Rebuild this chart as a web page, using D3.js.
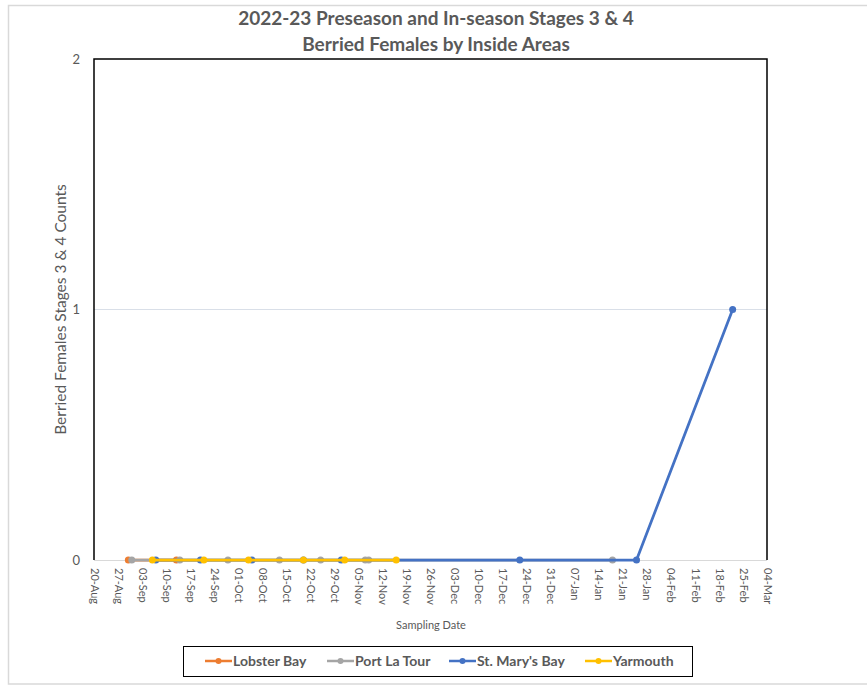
<!DOCTYPE html>
<html>
<head>
<meta charset="utf-8">
<script src="https://cdn.jsdelivr.net/npm/d3@7"></script>
<style>
  html, body { margin: 0; padding: 0; background: #fff; }
  svg { display: block; font-family: Lato, "Open Sans", sans-serif; }
</style>
</head>
<body>
<svg id="chart" width="867" height="686"></svg>
<script>
// Sampling dates (all counts zero except the last St. Mary's Bay sample)
const lobsterBayDates = ["2022-08-30", "2022-09-13"];
const lobsterBayCounts = [0, 0];

const portLaTourDates = ["2022-08-31", "2022-09-14", "2022-09-28", "2022-10-13", "2022-10-25",
                         "2022-11-07", "2022-11-08", "2023-01-18"];
const portLaTourCounts = [0, 0, 0, 0, 0, 0, 0, 0];

const stMarysBayDates = ["2022-09-07", "2022-09-20", "2022-10-05", "2022-10-20", "2022-10-31",
                         "2022-12-22", "2023-01-25", "2023-02-22"];
const stMarysBayCounts = [0, 0, 0, 0, 0, 0, 0, 1];

const yarmouthDates = ["2022-09-06", "2022-09-21", "2022-10-04", "2022-10-20", "2022-11-01", "2022-11-16"];
const yarmouthCounts = [0, 0, 0, 0, 0, 0];

const seriesNames = ["Lobster Bay", "Port La Tour", "St. Mary's Bay", "Yarmouth"];
const seriesColors = ["#ED7D31", "#A5A5A5", "#4472C4", "#FFC000"];

const yTicks = [0, 1, 2];
const axisStart = "2022-08-20";
const axisEnd = "2023-03-04";

const titleLines = ["2022-23 Preseason and In-season Stages 3 & 4", "Berried Females by Inside Areas"];
const yTitle = "Berried Females Stages 3 & 4 Counts";
const xTitle = "Sampling Date";

const parse = d3.utcParse("%Y-%m-%d");
const fmt = d3.utcFormat("%d-%b");

const series = [
  { name: seriesNames[0], color: seriesColors[0], dates: lobsterBayDates, counts: lobsterBayCounts },
  { name: seriesNames[1], color: seriesColors[1], dates: portLaTourDates, counts: portLaTourCounts },
  { name: seriesNames[2], color: seriesColors[2], dates: stMarysBayDates, counts: stMarysBayCounts },
  { name: seriesNames[3], color: seriesColors[3], dates: yarmouthDates, counts: yarmouthCounts }
].map(s => ({ ...s, points: s.dates.map((d, i) => ({ date: parse(d), value: s.counts[i] })) }));

const svg = d3.select("#chart");
const textColor = "#595959";

const plot = { left: 94, right: 767, top: 59, bottom: 560 };

const x = d3.scaleUtc()
  .domain([parse(axisStart), parse(axisEnd)])
  .range([plot.left, plot.right]);
const y = d3.scaleLinear()
  .domain([0, 2])
  .range([plot.bottom, plot.top]);

// Outer chart frame
svg.append("rect")
  .attr("x", 8.5).attr("y", 5.5)
  .attr("width", 870).attr("height", 678.5)
  .attr("fill", "none").attr("stroke", "#d9d9d9").attr("stroke-width", 1.5);

// Title
svg.append("g").selectAll("text").data(titleLines).join("text")
  .attr("x", 436).attr("y", (d, i) => 25 + i * 26)
  .attr("text-anchor", "middle")
  .attr("font-size", 19).attr("font-weight", "bold")
  .attr("fill", textColor)
  .text(d => d);

// Horizontal gridlines
svg.append("g").selectAll("line").data(yTicks.filter(t => t > 0 && t < 2)).join("line")
  .attr("x1", plot.left).attr("x2", plot.right)
  .attr("y1", d => y(d)).attr("y2", d => y(d))
  .attr("stroke", "#d9dfe8").attr("stroke-width", 1);

// Bottom axis line
svg.append("line")
  .attr("x1", plot.left).attr("x2", plot.right)
  .attr("y1", plot.bottom + 0.5).attr("y2", plot.bottom + 0.5)
  .attr("stroke", "#d9d9d9").attr("stroke-width", 1);

// Plot area border (left, top, right)
svg.append("path")
  .attr("d", `M${plot.left},${plot.bottom}V${plot.top}H${plot.right}V${plot.bottom}`)
  .attr("fill", "none").attr("stroke", "#000").attr("stroke-width", 1.5);

// Y tick labels
const yAxis = d3.axisLeft(y).tickValues(yTicks).tickSize(0).tickPadding(14).tickFormat(d3.format("d"));
const yg = svg.append("g").attr("transform", `translate(${plot.left},0)`).call(yAxis);
yg.select(".domain").remove();
yg.selectAll("text").attr("font-size", 13).attr("fill", textColor).attr("font-family", "Lato, sans-serif");

// X tick labels, weekly, rotated
const xTickValues = d3.utcDay.range(parse(axisStart), d3.utcDay.offset(parse(axisEnd), 1), 7);
const xAxis = d3.axisBottom(x).tickValues(xTickValues).tickSize(0).tickFormat(fmt);
const xg = svg.append("g").attr("transform", `translate(0,${plot.bottom})`).call(xAxis);
xg.select(".domain").remove();
xg.selectAll("text")
  .attr("font-size", 11).attr("fill", textColor).attr("font-family", "Lato, sans-serif")
  .attr("text-anchor", "start")
  .attr("dy", "0.35em")
  .attr("transform", "translate(0,8) rotate(90)")
  .attr("x", 0).attr("y", 0);

// Axis titles
svg.append("text")
  .attr("transform", `translate(66,${(plot.top + plot.bottom) / 2}) rotate(-90)`)
  .attr("text-anchor", "middle")
  .attr("font-size", 15.5).attr("fill", textColor)
  .text(yTitle);
svg.append("text")
  .attr("x", 431).attr("y", 629)
  .attr("text-anchor", "middle")
  .attr("font-size", 11).attr("fill", textColor)
  .text(xTitle);

// Series lines and markers
const line = d3.line().x(d => x(d.date)).y(d => y(d.value));
const sg = svg.append("g").selectAll("g").data(series).join("g");
sg.append("path")
  .attr("d", d => line(d.points))
  .attr("fill", "none").attr("stroke", d => d.color)
  .attr("stroke-width", 2.75).attr("stroke-linejoin", "round").attr("stroke-linecap", "round");
sg.selectAll("circle").data(d => d.points.map(p => ({ ...p, color: d.color }))).join("circle")
  .attr("cx", d => x(d.date)).attr("cy", d => y(d.value))
  .attr("r", 3.5).attr("fill", d => d.color);

// Legend
svg.append("rect")
  .attr("x", 183.5).attr("y", 646.5).attr("width", 509).attr("height", 30)
  .attr("fill", "#fff").attr("stroke", "#000").attr("stroke-width", 1);
const legendX = [205, 327, 449, 585];
const lg = svg.append("g").selectAll("g").data(series).join("g")
  .attr("transform", (d, i) => `translate(${legendX[i]},661)`);
lg.append("line").attr("x1", 0).attr("x2", 27).attr("stroke", d => d.color).attr("stroke-width", 2.5);
lg.append("circle").attr("cx", 13.5).attr("r", 3).attr("fill", d => d.color);
lg.append("text")
  .attr("x", 28).attr("dy", "0.35em")
  .attr("font-size", 14).attr("font-weight", "bold").attr("fill", textColor)
  .text(d => d.name);
</script>
</body>
</html>
